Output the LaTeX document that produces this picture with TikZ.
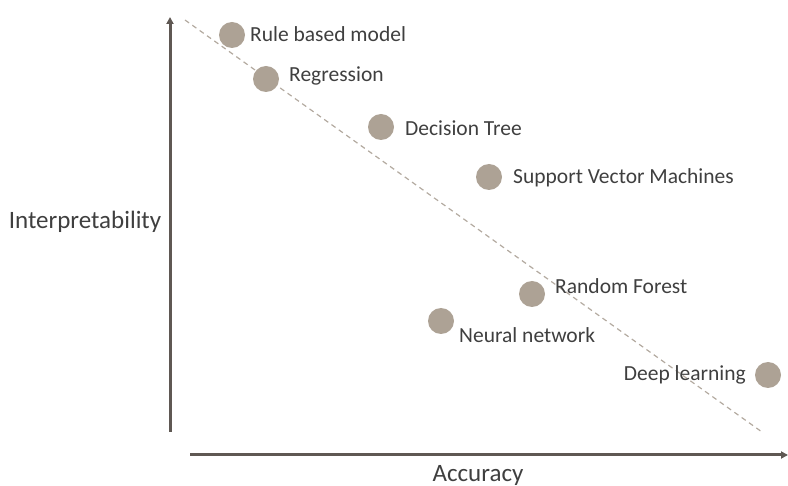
\documentclass[tikz,border=0pt]{standalone}
\usepackage{fontspec}
\setmainfont{Carlito}
\usetikzlibrary{arrows.meta}
\definecolor{axisgray}{HTML}{5F5853}
\definecolor{dotcol}{HTML}{ADA295}
\definecolor{dashcol}{HTML}{B3AAA0}
\definecolor{textgray}{HTML}{3F3F3F}
\tikzset{
  axis/.style={draw=axisgray, line width=3pt, -{Triangle[length=7pt,width=7pt]}},
  dot/.style={circle, fill=dotcol, minimum size=26pt, inner sep=0pt},
  lbl/.style={text=textgray, font=\fontsize{21.5}{24}\selectfont, inner sep=0pt},
  axlbl/.style={text=textgray, font=\fontsize{25}{28}\selectfont, inner sep=0pt},
}
\begin{document}
\begin{tikzpicture}[x=1pt,y=-1pt]
\useasboundingbox (0,0) rectangle (788,486);
% trend line
\coordinate (t0) at (185,20);
\coordinate (t1) at (762,432);
\draw[dashcol, dashed, line width=1.2pt, dash pattern=on 5pt off 4pt] (t0) -- (t1);
% axes
\coordinate (yb) at (170,432);
\coordinate (yt) at (170,17);
\coordinate (xl) at (190,455);
\coordinate (xr) at (788,455);
\draw[axis] (yb) -- (yt);
\draw[axis] (xl) -- (xr);
\node[axlbl] (ylab) at (85,222) {Interpretability};
\node[axlbl] (xlab) at (478,475) {Accuracy};
% models
\node[dot] (rb) at (232,35) {};
\node[lbl, anchor=west] (rbl) at (250,34) {Rule based model};
\node[dot] (rg) at (266,79) {};
\node[lbl, anchor=west] (rgl) at (289,76) {Regression};
\node[dot] (dt) at (381,127) {};
\node[lbl, anchor=west] (dtl) at (405,128) {Decision Tree};
\node[dot] (sv) at (489,177) {};
\node[lbl, anchor=west] (svl) at (513,178) {Support Vector Machines};
\node[dot] (rf) at (532,294) {};
\node[lbl, anchor=west] (rfl) at (555,286) {Random Forest};
\node[dot] (nn) at (441,321) {};
\node[lbl, anchor=west] (nnl) at (459,335) {Neural network};
\node[dot] (dl) at (768,375) {};
\node[lbl, anchor=east] (dll) at (746,375) {Deep learning};
\end{tikzpicture}
\end{document}
